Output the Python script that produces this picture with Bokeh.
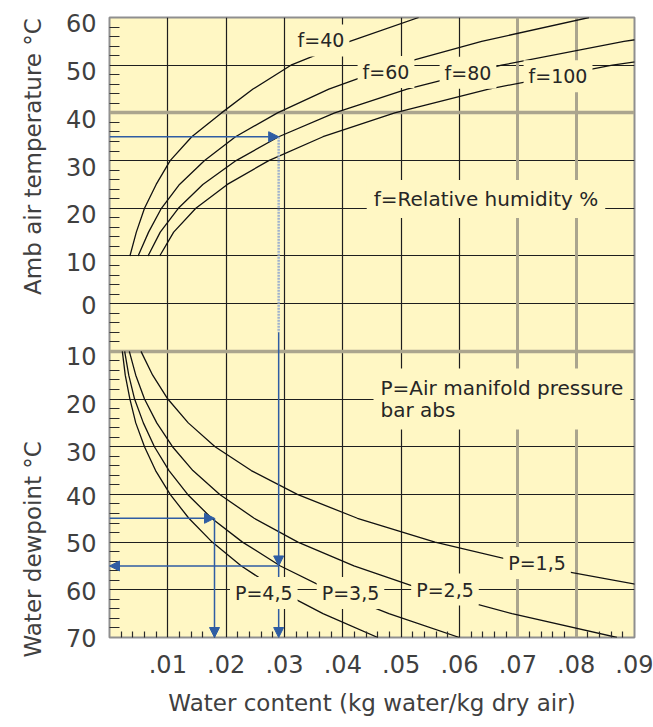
import math
from bokeh.plotting import figure
from bokeh.models import FixedTicker, Grid, Label, Arrow, NormalHead, Range1d, Title
from bokeh.embed import file_html
from bokeh.resources import INLINE

# ---------------- data ----------------
x_ticks = [0.01, 0.02, 0.03, 0.04, 0.05, 0.06, 0.07, 0.08, 0.09]
x_tick_labels = [".01", ".02", ".03", ".04", ".05", ".06", ".07", ".08", ".09"]
y_ticks = [60, 50, 40, 30, 20, 10, 0, -10, -20, -30, -40, -50, -60, -70]
y_tick_labels = ["60", "50", "40", "30", "20", "10", "0",
                 "10", "20", "30", "40", "50", "60", "70"]

# upper half: ambient air temperature (degC) vs water content at relative humidity f
amb_temp = [10, 15, 20, 25, 30, 35, 40, 45, 50, 55, 60]
wc_f40 = [0.0035, 0.0046, 0.0060, 0.0080, 0.0104, 0.0141, 0.0192, 0.0246, 0.0311, 0.0412, 0.0530]
wc_f60 = [0.0049, 0.0067, 0.0089, 0.0120, 0.0163, 0.0216, 0.0288, 0.0376, 0.0490, 0.0638, 0.0822]
wc_f80 = [0.0066, 0.0087, 0.0118, 0.0160, 0.0217, 0.0290, 0.0386, 0.0510, 0.0672, 0.0882, 0.1160]
wc_f100 = [0.0086, 0.0110, 0.0148, 0.0202, 0.0273, 0.0366, 0.0489, 0.0650, 0.0862, 0.1145, 0.1520]
rh_names = ["f=40", "f=60", "f=80", "f=100"]

# lower half: water dewpoint (degC) vs water content at manifold pressure P (bar abs)
dewpoint = [10, 15, 20, 25, 30, 35, 40, 45, 50, 55, 60, 65, 70]
wc_p15 = [0.0054, 0.0074, 0.0100, 0.0135, 0.0181, 0.0243, 0.0322, 0.0425, 0.0558, 0.0730, 0.0954, 0.1246, 0.1633]
wc_p25 = [0.0034, 0.0045, 0.0060, 0.0081, 0.0108, 0.0143, 0.0189, 0.0248, 0.0323, 0.0419, 0.0539, 0.0690, 0.0870]
wc_p35 = [0.0026, 0.0033, 0.0043, 0.0058, 0.0077, 0.0102, 0.0134, 0.0175, 0.0228, 0.0293, 0.0376, 0.0479, 0.0600]
wc_p45 = [0.0022, 0.0027, 0.0035, 0.0045, 0.0060, 0.0079, 0.0104, 0.0136, 0.0176, 0.0226, 0.0288, 0.0366, 0.0460]
p_names = ["P=1,5", "P=2,5", "P=3,5", "P=4,5"]

# worked examples (blue arrows)
ex1_amb_temp = 35
ex1_water = 0.029
ex1_dewpoint = 55
ex2_dewpoint = 45
ex2_water = 0.018
dew_axis_end = 70

# ---------------- styling ----------------
BG = "#FFF7C4"
FONT = "DejaVu Sans"
TXT = "#262626"
AX = "#404040"
BLUE = "#2F5DA3"
PALE = "#9FB2CE"
GRID_DARK = "#1e1e1e"
GRID_GRAY = "#ABA58E"
emph_x = [0.07, 0.08]
emph_y = [40, -10]
# small downward nudge of the printed y labels, as on the original scan
y_label_nudge = [1.2, 1.3, 1.3, 1.3, 1.3, 1.2, 0.2, 0.9, 1.0, 1.0, 0.3, 0.2, 0.3, 0.0]
NBSP = "\u00a0"

p = figure(width=653, height=727, x_range=Range1d(0, 0.09), y_range=Range1d(-70, 60),
           output_backend="svg", toolbar_location=None, title=None,
           min_border_left=109, min_border_right=19, min_border_top=17, min_border_bottom=90)
p.background_fill_color = BG
p.border_fill_color = "white"
p.outline_line_color = "#8f8f8f"
p.outline_line_width = 2

# axes
xax = p.xaxis[0]
xax.ticker = FixedTicker(ticks=x_ticks,
                         minor_ticks=[round(i * 0.002, 3) for i in range(1, 45) if i % 5])
xax.major_label_overrides = {t: l for t, l in zip(x_ticks, x_tick_labels)}
yax = p.yaxis[0]
y_label_pos = [t - n for t, n in zip(y_ticks, y_label_nudge)]
yax.ticker = FixedTicker(ticks=y_label_pos, minor_ticks=[v for v in range(58, -70, -2) if v % 10])
yax.major_label_overrides = {t: l for t, l in zip(y_label_pos, y_tick_labels)}
for ax in (xax, yax):
    ax.axis_line_color = None
    ax.major_tick_line_color = None
    ax.major_tick_in = 0
    ax.major_tick_out = 0
    ax.minor_tick_out = 0
    ax.minor_tick_line_color = "#2a2a2a"
    ax.minor_tick_line_width = 1.2
    ax.major_label_text_font = FONT
    ax.major_label_text_font_size = "24px"
    ax.major_label_text_color = AX
    ax.axis_label_text_font = FONT
    ax.axis_label_text_font_size = "23px"
    ax.axis_label_text_font_style = "normal"
    ax.axis_label_text_color = AX
xax.minor_tick_in = 6
xax.major_label_standoff = 17
xax.axis_label = "Water content (kg water/kg dry air)"
xax.axis_label_standoff = 14
yax.minor_tick_in = 10
yax.major_label_standoff = 13

# the two vertical axis titles (upper and lower half) share the left margin
p.add_layout(Title(text="Water dewpoint °C" + NBSP * 20 + "Amb air temperature °C",
                   align="left", offset=-20, standoff=33,
                   text_font=FONT, text_font_size="23px", text_font_style="normal",
                   text_color=AX), "left")

# grids
p.xgrid.ticker = FixedTicker(ticks=[t for t in x_ticks if t not in emph_x and t < 0.09])
p.ygrid.ticker = FixedTicker(ticks=[t for t in y_ticks if t not in emph_y and -70 < t < 60])
p.xgrid.grid_line_color = GRID_DARK
p.ygrid.grid_line_color = GRID_DARK
p.xgrid.grid_line_width = 1.2
p.ygrid.grid_line_width = 1.2
p.add_layout(Grid(dimension=0, ticker=FixedTicker(ticks=emph_x),
                  grid_line_color=GRID_GRAY, grid_line_width=3))
p.add_layout(Grid(dimension=1, ticker=FixedTicker(ticks=emph_y),
                  grid_line_color=GRID_GRAY, grid_line_width=3.5))

# curves
for wc in (wc_f40, wc_f60, wc_f80, wc_f100):
    p.line(wc, amb_temp, line_color="#111111", line_width=1.3)
neg_dew = [-d for d in dewpoint]
for wc in (wc_p15, wc_p25, wc_p35, wc_p45):
    p.line(wc, neg_dew, line_color="#111111", line_width=1.3)

# worked example paths
p.line([ex1_water, ex1_water], [ex1_amb_temp, -6], line_color=PALE,
       line_width=2.5, line_dash="2 1")


def arrow(x0, y0, x1, y1):
    p.add_layout(Arrow(end=NormalHead(size=10, fill_color=BLUE, line_color=BLUE, line_width=1),
                       x_start=x0, y_start=y0, x_end=x1, y_end=y1,
                       line_color=BLUE, line_width=1.5))


arrow(0, ex1_amb_temp, ex1_water, ex1_amb_temp)
arrow(ex1_water, -6, ex1_water, -ex1_dewpoint)
arrow(ex1_water, -ex1_dewpoint, ex1_water, -dew_axis_end)
arrow(ex1_water, -ex1_dewpoint, 0, -ex1_dewpoint)
arrow(0, -ex2_dewpoint, ex2_water, -ex2_dewpoint)
arrow(ex2_water, -ex2_dewpoint, ex2_water, -dew_axis_end)


# in-plot labels (with a background patch that breaks the lines, as in the original)
def tag(x, y, text, size="19px", pad=5, align="center", lh=1.2):
    p.add_layout(Label(x=x, y=y, text=text, text_font=FONT, text_font_size=size,
                       text_color=TXT, text_align=align, text_baseline="middle",
                       text_line_height=lh,
                       background_fill_color=BG, background_fill_alpha=1.0, padding=pad))


rh_pos = [(0.03626, 55.18), (0.04740, 48.57), (0.06146, 48.40), (0.07689, 47.69)]
for name, (lx, ly) in zip(rh_names, rh_pos):
    tag(lx, ly, name)
p_pos = [(0.07329, -54.38), (0.05751, -59.94), (0.04131, -60.67), (0.02645, -60.67)]
for name, (lx, ly) in zip(p_names, p_pos):
    tag(lx, ly, name)
tag(0.06454, 21.94, "f=Relative humidity %", size="20px", pad=7)
tag(0.04526, -19.99, "P=Air manifold pressure\nbar abs", size="20px", pad=7,
    align="left", lh=0.95)

open("out.html", "w").write(file_html(p, INLINE))
